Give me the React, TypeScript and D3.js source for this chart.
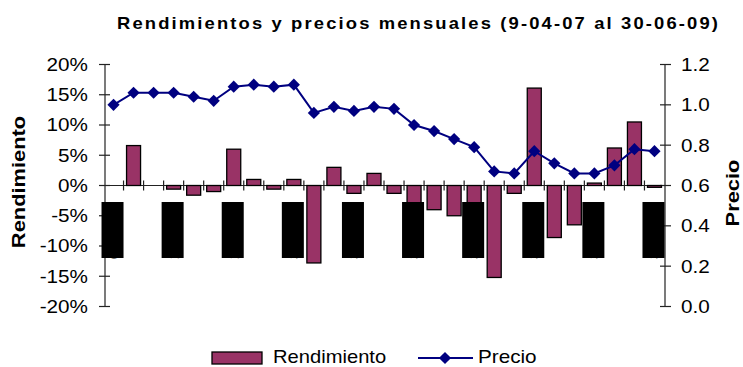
import React from "react";
import * as d3 from "d3";

const fechas = [
  "09-04-07","30-04-07","31-05-07","29-06-07","31-07-07","31-08-07","28-09-07",
  "31-10-07","30-11-07","31-12-07","31-01-08","29-02-08","31-03-08","30-04-08",
  "30-05-08","30-06-08","31-07-08","29-08-08","30-09-08","31-10-08","28-11-08",
  "31-12-08","30-01-09","27-02-09","31-03-09","30-04-09","29-05-09","30-06-09",
];
const rendimiento: (number | null)[] = [
  null, 6.6, 0, -0.6, -1.6, -1.0, 6.0, 1.0, -0.6, 1.0, -12.8, 3.0, -1.3, 2.0,
  -1.3, -8.3, -4.0, -5.0, -5.0, -15.2, -1.3, 16.1, -8.6, -6.5, 0.4, 6.2, 10.5, -0.3,
];
const precio = [
  1.0, 1.06, 1.06, 1.06, 1.04, 1.02, 1.09, 1.1, 1.09, 1.1, 0.96, 0.99, 0.97, 0.99,
  0.98, 0.9, 0.87, 0.83, 0.79, 0.67, 0.66, 0.77, 0.71, 0.66, 0.66, 0.7, 0.78, 0.77,
];
const leftTicks = [-20, -15, -10, -5, 0, 5, 10, 15, 20];
const rightTicks = [0, 0.2, 0.4, 0.6, 0.8, 1.0, 1.2];
const labelEvery = 3;
const title = "Rendimientos y precios mensuales (9-04-07 al  30-06-09)";

const FONT = "'Liberation Sans', Arial, Helvetica, sans-serif";
const SX = 1.15;
const BAR = "#993366";
const NAVY = "#000080";

export default function App() {
  const W = 743, H = 367;
  const axL = 105, axR = 665, top = 64.5, bot = 306.5;
  const x = d3.scaleBand<string>().domain(fechas).range([103.5, 664.5]).paddingInner(0).paddingOuter(0);
  const yL = d3.scaleLinear().domain([-20, 20]).range([bot, top]);
  const yR = d3.scaleLinear().domain([0, 1.2]).range([bot, top]);
  const cx = (d: string) => (x(d) as number) + x.bandwidth() / 2;
  const barW = 14;
  const line = d3.line<number>().x((_, i) => cx(fechas[i])).y((v) => yR(v));
  const diamond = d3.symbol().type(d3.symbolDiamond2).size(95)();
  const y0 = yL(0);

  const boundaries = fechas.slice(1).map((d) => x(d) as number);

  return (
    <svg width={W} height={H} style={{ position: "absolute", left: 0, top: 0, background: "#fff" }} fontFamily={FONT}>
      {/* title */}
      <text transform={`translate(117,28.5) scale(${SX},1)`} fontSize={16} fontWeight="bold" textLength={601 / SX} lengthAdjust="spacing" fill="#000">
        {title}
      </text>

      {/* axes */}
      <line x1={axL} x2={axL} y1={top} y2={bot} stroke="#222" strokeWidth={1.2} />
      <line x1={axR} x2={axR} y1={top} y2={bot} stroke="#222" strokeWidth={1.2} />
      {leftTicks.map((t) => (
        <g key={"l" + t}>
          <line x1={axL - 6} x2={axL + 5} y1={yL(t)} y2={yL(t)} stroke="#222" strokeWidth={1.2} />
          <text transform={`translate(88,${yL(t)}) scale(${SX},1)`} dy="0.36em" textAnchor="end" fontSize={18} fill="#000">
            {t + "%"}
          </text>
        </g>
      ))}
      {rightTicks.map((t) => (
        <g key={"r" + t}>
          <line x1={axR - 5} x2={axR + 6} y1={yR(t)} y2={yR(t)} stroke="#222" strokeWidth={1.2} />
          <text transform={`translate(681,${yR(t)}) scale(${SX},1)`} dy="0.36em" textAnchor="start" fontSize={18} fill="#000">
            {t.toFixed(1)}
          </text>
        </g>
      ))}
      {/* baseline */}
      <line x1={axL - 6} x2={axR} y1={y0} y2={y0} stroke="#222" strokeWidth={1.2} />
      {boundaries.map((b, i) => (
        <line key={"b" + i} x1={b} x2={b} y1={y0 - 5} y2={y0 + 5} stroke="#222" strokeWidth={1.2} />
      ))}

      {/* axis titles */}
      <text transform={`translate(25,182) rotate(-90) scale(${SX},1)`} textAnchor="middle" fontSize={19} fontWeight="bold" fill="#000">
        Rendimiento
      </text>
      <text transform={`translate(739,193) rotate(-90) scale(${SX},1)`} textAnchor="middle" fontSize={19} fontWeight="bold" fill="#000">
        Precio
      </text>

      {/* bars */}
      {rendimiento.map((v, i) =>
        v === null || v === 0 ? null : (
          <rect
            key={"bar" + i}
            x={cx(fechas[i]) - barW / 2}
            y={Math.min(yL(v), y0)}
            width={barW}
            height={Math.abs(yL(v) - y0)}
            fill={BAR}
            stroke="#000"
            strokeWidth={1.3}
          />
        )
      )}

      {/* category labels (rendered as solid black blocks) */}
      {fechas.map((d, i) =>
        i % labelEvery === 0 ? (
          <g key={"lab" + i}>
            <rect x={cx(d) - 12} y={202} width={22} height={56} fill="#000" />
            <text transform={`translate(${cx(d) + 5},${203}) rotate(-90)`} textAnchor="end" fontSize={14} fill="#000">
              {d}
            </text>
          </g>
        ) : null
      )}

      {/* price line */}
      <path d={line(precio) || ""} fill="none" stroke={NAVY} strokeWidth={2} />
      {precio.map((v, i) => (
        <path key={"p" + i} d={diamond || ""} transform={`translate(${cx(fechas[i])},${yR(v)})`} fill={NAVY} />
      ))}

      {/* legend */}
      <rect x={212} y={352} width={50} height={12} fill={BAR} stroke="#000" strokeWidth={1.3} />
      <text transform={`translate(273,363) scale(1.12,1)`} fontSize={18} fill="#000">Rendimiento</text>
      <line x1={418} x2={473} y1={358} y2={358} stroke={NAVY} strokeWidth={2} />
      <path d={diamond || ""} transform="translate(445,358)" fill={NAVY} />
      <text transform={`translate(478,363) scale(${SX},1)`} fontSize={18} fill="#000">Precio</text>
    </svg>
  );
}
